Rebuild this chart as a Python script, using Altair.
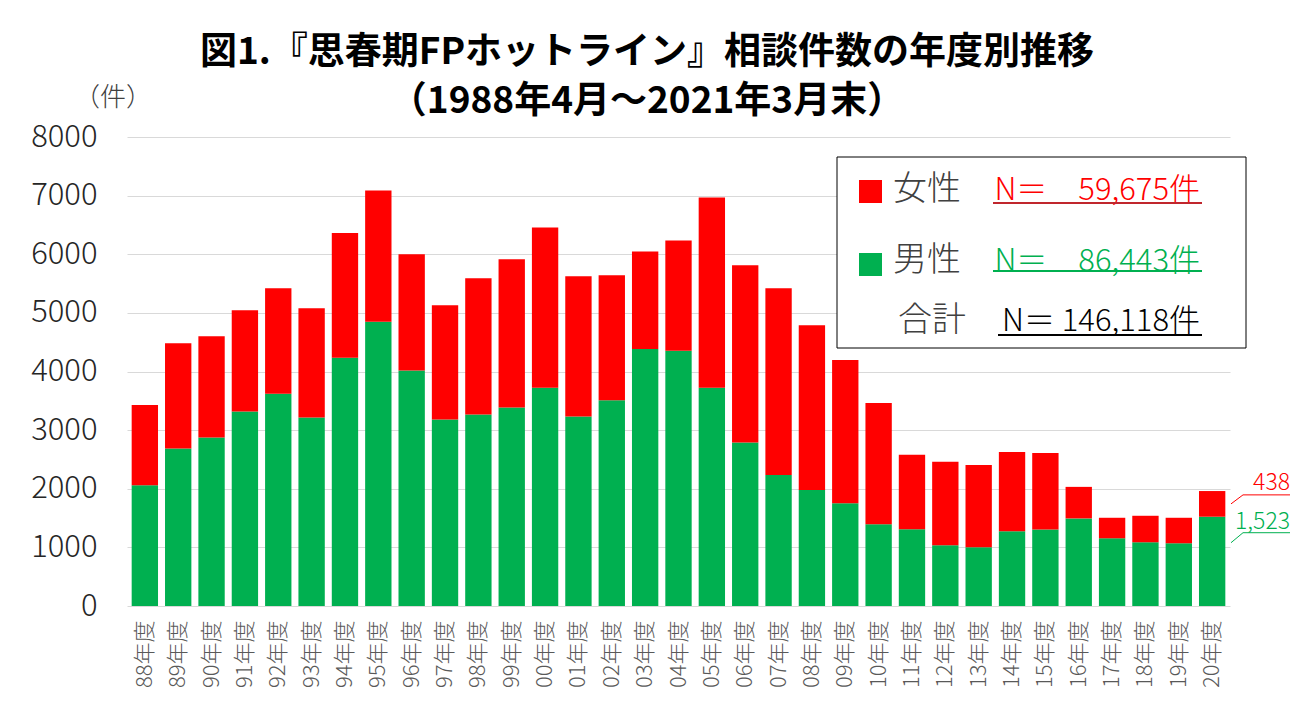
import altair as alt
import pandas as pd

FONT = "Noto Sans CJK JP"
RED = "#FF0000"
GREEN = "#00B050"

# ---- data ----
years = ["88年度", "89年度", "90年度", "91年度", "92年度", "93年度", "94年度", "95年度",
         "96年度", "97年度", "98年度", "99年度", "00年度", "01年度", "02年度", "03年度",
         "04年度", "05年度", "06年度", "07年度", "08年度", "09年度", "10年度", "11年度",
         "12年度", "13年度", "14年度", "15年度", "16年度", "17年度", "18年度", "19年度",
         "20年度"]
male = [2058, 2687, 2874, 3316, 3622, 3214, 4235, 4847,
        4019, 3180, 3265, 3384, 3724, 3231, 3509, 4382,
        4354, 3724, 2789, 2234, 1978, 1752, 1395, 1310,
        1037, 1002, 1273, 1307, 1494, 1155, 1087, 1070,
        1523]
female = [1372, 1797, 1729, 1729, 1798, 1865, 2126, 2239,
          1979, 1950, 2325, 2529, 2733, 2393, 2132, 1667,
          1882, 3243, 3022, 3186, 2812, 2443, 2069, 1269,
          1423, 1403, 1353, 1302, 538, 350, 452, 435,
          438]
y_ticks = [0, 1000, 2000, 3000, 4000, 5000, 6000, 7000, 8000]
legend_labels = ["女性", "男性", "合計"]
legend_totals = [59675, 86443, 146118]
title_lines = ["図1.『思春期FPホットライン』相談件数の年度別推移", "（1988年4月～2021年3月末）"]
unit_label = "（件）"

rows = []
for i, yr in enumerate(years):
    rows.append({"year": yr, "sex": "男性", "count": male[i], "ord": 0})
    rows.append({"year": yr, "sex": "女性", "count": female[i], "ord": 1})
df = pd.DataFrame(rows)

yscale = alt.Scale(domain=[0, 8000])
yaxis = alt.Axis(title=None, values=y_ticks, format="d", labelFontSize=31,
                 labelPadding=30, ticks=False, tickSize=0, domain=False,
                 gridColor="#D9D9D9", labelColor="#262626", labelFont=FONT,
                 labelFontWeight=300)

bars = alt.Chart(df).mark_bar().encode(
    x=alt.X("year:N", sort=years,
            scale=alt.Scale(paddingInner=0.21, paddingOuter=0.14),
            axis=alt.Axis(title=None, labelAngle=-90, labelFontSize=22, labelPadding=14,
                          ticks=False, domain=False, labelColor="#595959", labelFont=FONT,
                          labelFontWeight=300, grid=False)),
    y=alt.Y("count:Q", stack="zero", scale=yscale, axis=yaxis),
    color=alt.Color("sex:N", scale=alt.Scale(domain=["男性", "女性"], range=[GREEN, RED]),
                    legend=None),
    order=alt.Order("ord:Q", sort="ascending"),
)

layers = [bars]
one = pd.DataFrame({"k": [0]})

# title lines
for i, t in enumerate(title_lines):
    layers.append(alt.Chart(one).mark_text(fontSize=37, font=FONT, fontWeight="bold",
                                           color="black", baseline="middle", align="center").encode(
        x=alt.value(520), y=alt.value([-84, -35][i]), text=alt.value(t)))

# unit label
layers.append(alt.Chart(one).mark_text(fontSize=26, font=FONT, fontWeight=300,
                                        color="#404040", baseline="middle").encode(
    x=alt.value(-14), y=alt.value(-39), text=alt.value(unit_label)))

# ---- annotations for the last bar ----
ann = pd.DataFrame({
    "mid": [male[-1] + female[-1] / 2],
    "m": [male[-1]],
    "flab": [f"{female[-1]:,}"],
    "mlab": [f"{male[-1]:,}"],
})
# female leader
layers.append(alt.Chart(ann).mark_rule(color=RED, strokeWidth=1, y2Offset=-9).encode(
    x=alt.value(1104), x2=alt.value(1116),
    y=alt.Y("mid:Q", scale=yscale, axis=yaxis), y2=alt.Y2("mid:Q")))
layers.append(alt.Chart(ann).mark_rule(color=RED, strokeWidth=1, yOffset=-9).encode(
    x=alt.value(1116), x2=alt.value(1163), y=alt.Y("mid:Q", scale=yscale, axis=yaxis)))
layers.append(alt.Chart(ann).mark_text(color=RED, fontSize=23, font=FONT, fontWeight=300,
                                       align="right", baseline="middle", yOffset=-21).encode(
    x=alt.value(1163), y=alt.Y("mid:Q", scale=yscale, axis=yaxis), text="flab:N"))
# male leader
layers.append(alt.Chart(ann).mark_rule(color=GREEN, strokeWidth=1, yOffset=26, y2Offset=16).encode(
    x=alt.value(1104), x2=alt.value(1116),
    y=alt.Y("m:Q", scale=yscale, axis=yaxis), y2=alt.Y2("m:Q")))
layers.append(alt.Chart(ann).mark_rule(color=GREEN, strokeWidth=1, yOffset=16).encode(
    x=alt.value(1116), x2=alt.value(1163), y=alt.Y("m:Q", scale=yscale, axis=yaxis)))
layers.append(alt.Chart(ann).mark_text(color=GREEN, fontSize=23, font=FONT, fontWeight=300,
                                       align="right", baseline="middle", yOffset=5).encode(
    x=alt.value(1163), y=alt.Y("m:Q", scale=yscale, axis=yaxis), text="mlab:N"))

# ---- custom legend box ----
layers.append(alt.Chart(one).mark_rect(fill="white", stroke="black", strokeWidth=1).encode(
    x=alt.value(710), x2=alt.value(1119), y=alt.value(20), y2=alt.value(211)))

row_cy = [53, 124, 184]
row_ul = [66, 134, 198]
sq_top = [43, 116]
txt_colors = [RED, GREEN, "black"]
ul_colors = ["#C0262D", GREEN, "black"]
for i, (lab, tot) in enumerate(zip(legend_labels, legend_totals)):
    if i < 2:
        layers.append(alt.Chart(one).mark_rect(color=txt_colors[i]).encode(
            x=alt.value(732), x2=alt.value(755), y=alt.value(sq_top[i]), y2=alt.value(sq_top[i] + 23)))
        lx = 766
    else:
        lx = 771
    layers.append(alt.Chart(one).mark_text(align="left", baseline="middle", fontSize=34,
                                           font=FONT, fontWeight=300, color="#404040").encode(
        x=alt.value(lx), y=alt.value(row_cy[i]), text=alt.value(lab)))
    ntxt = f"N＝ {tot:,}件" if i == 2 else f"N＝　{tot:,}件"
    layers.append(alt.Chart(one).mark_text(align="right", baseline="middle", fontSize=31,
                                           font=FONT, fontWeight=300, color=txt_colors[i]).encode(
        x=alt.value(1073), y=alt.value(row_cy[i] + 1), text=alt.value(ntxt)))
    layers.append(alt.Chart(one).mark_rule(color=ul_colors[i], strokeWidth=2).encode(
        x=alt.value(866 if i < 2 else 871), x2=alt.value(1075), y=alt.value(row_ul[i])))

chart = alt.layer(*layers).properties(
    width=1103, height=469,
    padding={"left": 119, "top": 129, "right": 70, "bottom": 106},
    autosize=alt.AutoSizeParams(type="none"),
    background="white",
).configure_view(stroke=None)

chart.save("out.html", embed_options={"renderer": "svg", "actions": False})
